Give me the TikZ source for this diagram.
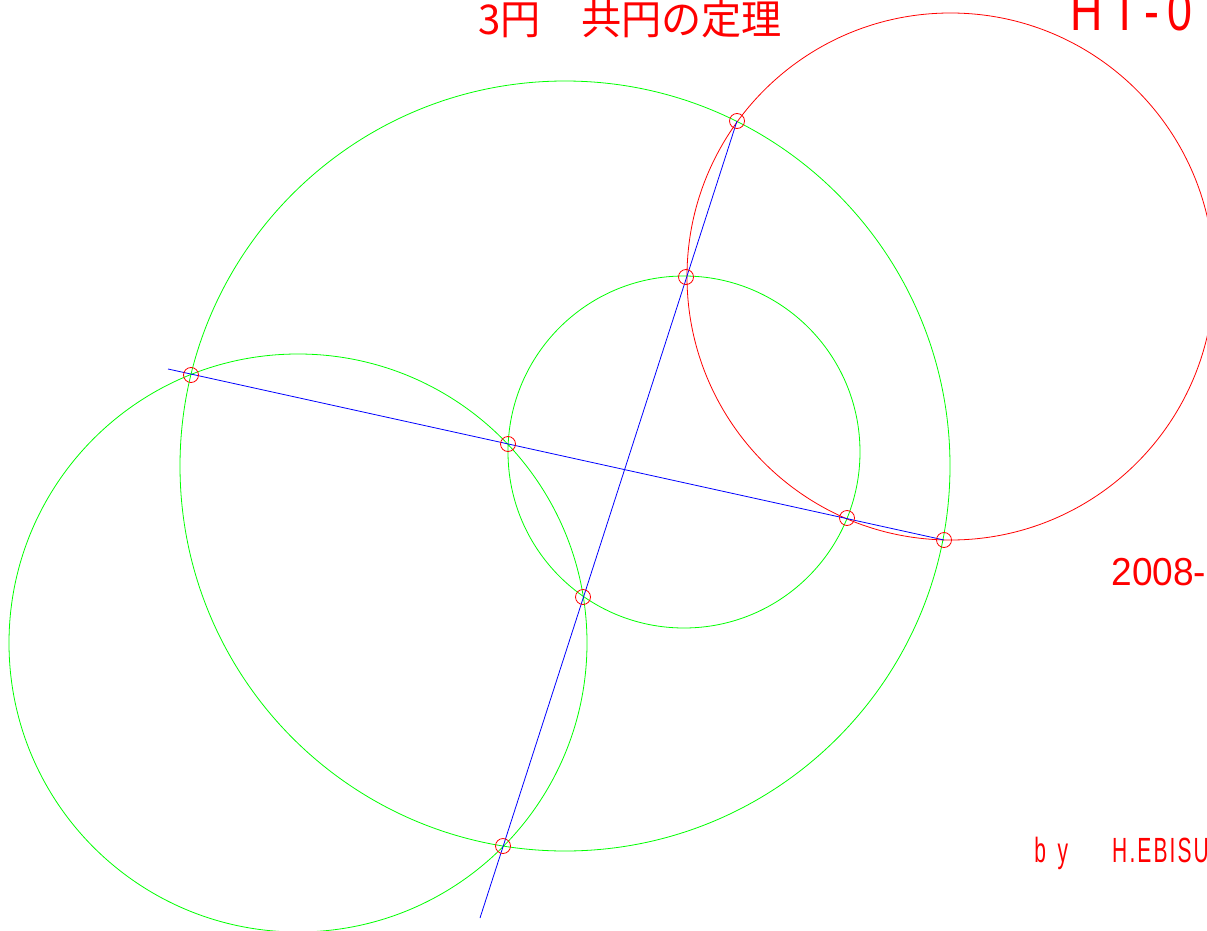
\documentclass[tikz,border=0pt]{standalone}
\usepackage{fontspec}
\usepackage{xcolor}
\usepackage{tikz}
\newfontfamily\jpfont[FakeStretch=0.98]{Noto Sans CJK JP}
\newfontfamily\bigsans[FakeStretch=0.8, LetterSpace=15]{Liberation Sans}
\newfontfamily\datesans[FakeStretch=0.95]{Liberation Sans}
\newfontfamily\namesans[FakeStretch=0.6, LetterSpace=6]{Liberation Sans}

\begin{document}
\begin{tikzpicture}[x=1pt, y=-1pt, line width=0.8pt]
			\useasboundingbox (0,0) rectangle (1207,931);
			\clip (0,0) rectangle (1207,931);

			\draw[green] (565,466) circle (385pt);
			\draw[green] (684,452) circle (176pt);
			\draw[green] (298,643) circle (289pt);
			\draw[red] (950.5,276.5) circle (263.5pt);

			\coordinate (A) at (191,375);
			\coordinate (B) at (508,444);
			\coordinate (C) at (847,518);
			\coordinate (D) at (944,540);
			\coordinate (E) at (737,121);
			\coordinate (F) at (686,277);
			\coordinate (G) at (583,597);
			\coordinate (H) at (503,846);
			\coordinate (L1) at (168,369);
			\coordinate (L2) at (480,918);

			\draw[blue] (L1) -- (D);
			\draw[blue] (E) -- (L2);

			\draw[red] (A) circle (7.5pt);
			\draw[red] (B) circle (7.5pt);
			\draw[red] (C) circle (7.5pt);
			\draw[red] (D) circle (7.5pt);
			\draw[red] (E) circle (7.5pt);
			\draw[red] (F) circle (7.5pt);
			\draw[red] (G) circle (7.5pt);
			\draw[red] (H) circle (7.5pt);

			\node[red, anchor=base west, inner sep=0, font=\jpfont\fontsize{41}{41}\selectfont] (title) at (478,35) {3円　共円の定理};
			\node[red, anchor=base west, inner sep=0, font=\bigsans\fontsize{56}{56}\selectfont] (code) at (1070,31) {HT-0};
			\node[red, anchor=base west, inner sep=0, font=\datesans\fontsize{39}{39}\selectfont] (date) at (1111,585) {2008-};
			\node[red, anchor=base west, inner sep=0, font=\namesans\fontsize{35}{35}\selectfont] (author) at (1034,862) {b\,\,y\hspace{44pt}H.EBISU};
		\end{tikzpicture}
\end{document}
